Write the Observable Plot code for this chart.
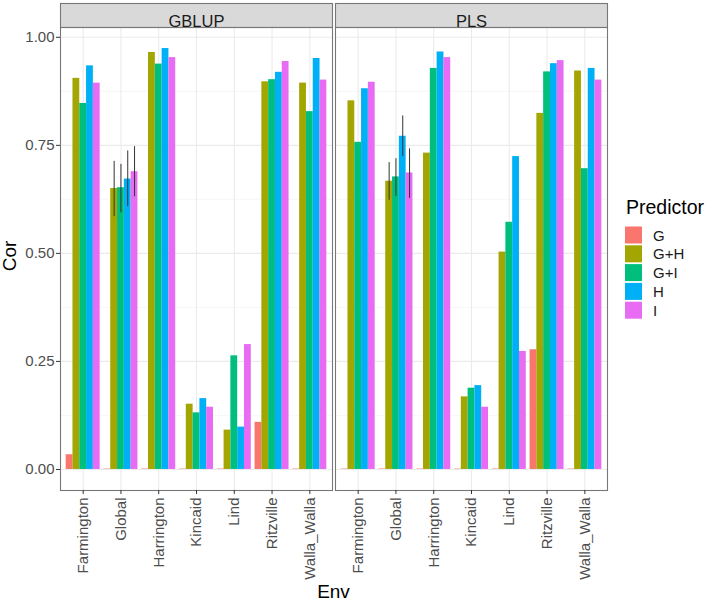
<!DOCTYPE html>
<html><head><meta charset="utf-8">
<script src="https://cdn.jsdelivr.net/npm/d3@7"></script>
<script src="https://cdn.jsdelivr.net/npm/@observablehq/plot@0.6"></script>
<style>
body{margin:0;background:#fff}
#wrap{position:relative;width:706px;height:602px;background:#fff}
#wrap svg{position:absolute;left:0;top:0}
</style>
</head><body><div id="wrap"></div>
<script>
const envs = ["Farmington","Global","Harrington","Kincaid","Lind","Ritzville","Walla_Walla"];
const predictors = ["G","G+H","G+I","H","I"];
const methods = ["GBLUP","PLS"];
const colors = ["#F8766D","#A3A500","#00BF7D","#00B0F6","#E76BF3"];

// GBLUP values by predictor (order of envs)
const gblupG  = [0.034, 0.001, 0.001, 0.001, 0.001, 0.109, 0.001];
const gblupGH = [0.905, 0.650, 0.965, 0.151, 0.091, 0.897, 0.894];
const gblupGI = [0.847, 0.652, 0.938, 0.131, 0.263, 0.902, 0.828];
const gblupH  = [0.934, 0.672, 0.974, 0.164, 0.098, 0.919, 0.951];
const gblupI  = [0.894, 0.689, 0.953, 0.144, 0.289, 0.944, 0.901];
// PLS values by predictor
const plsG  = [0.001, 0.001, 0.001, 0.001, 0.001, 0.277, 0.001];
const plsGH = [0.853, 0.667, 0.732, 0.168, 0.503, 0.824, 0.922];
const plsGI = [0.757, 0.677, 0.928, 0.188, 0.572, 0.920, 0.696];
const plsH  = [0.881, 0.771, 0.966, 0.194, 0.724, 0.939, 0.928];
const plsI  = [0.896, 0.686, 0.953, 0.144, 0.273, 0.946, 0.901];

// Error bars for the "Global" environment (predictors G+H, G+I, H, I)
const errPreds = ["G+H","G+I","H","I"];
const gblupGlobalLo = [0.585, 0.594, 0.608, 0.631];
const gblupGlobalHi = [0.713, 0.706, 0.737, 0.747];
const plsGlobalLo = [0.623, 0.632, 0.724, 0.627];
const plsGlobalHi = [0.710, 0.719, 0.818, 0.742];

const majorY = [0, 0.25, 0.5, 0.75, 1];
const minorY = [0.125, 0.375, 0.625, 0.875];

// ggplot dodge: 5 bars in a 0.9-wide group
const dodge = 0.9 / predictors.length;
const center = (envIdx, pred) => envIdx + 1 + (predictors.indexOf(pred) - (predictors.length - 1) / 2) * dodge;

const series = {
  GBLUP: [gblupG, gblupGH, gblupGI, gblupH, gblupI],
  PLS: [plsG, plsGH, plsGI, plsH, plsI]
};
const bars = [];
for (const m of methods) {
  series[m].forEach((arr, pi) => {
    arr.forEach((v, ei) => {
      const c = center(ei, predictors[pi]);
      bars.push({method: m, env: envs[ei], pred: predictors[pi], cor: v, x1: c - dodge / 2, x2: c + dodge / 2});
    });
  });
}
const errs = [];
const gi = envs.indexOf("Global");
errPreds.forEach((p, i) => {
  errs.push({method: "GBLUP", x: center(gi, p), lo: gblupGlobalLo[i], hi: gblupGlobalHi[i]});
  errs.push({method: "PLS", x: center(gi, p), lo: plsGlobalLo[i], hi: plsGlobalHi[i]});
});

const plot = Plot.plot({
  width: 706, height: 602,
  marginTop: 27, marginBottom: 112, marginLeft: 60, marginRight: 99,
  style: {fontFamily: "'Liberation Sans', Arial, sans-serif", background: "#fff"},
  fx: {domain: methods, paddingInner: 0.011, paddingOuter: 0, axis: null, label: null},
  x: {domain: [0.4, 7.6], label: null},
  y: {domain: [-0.0487, 1.0227], label: null},
  color: {domain: predictors, range: colors},
  marks: [
    Plot.frame({fill: "#d9d9d9", stroke: "#777", strokeWidth: 1.1, insetTop: -24, insetBottom: 463}),
    Plot.gridY({ticks: minorY, stroke: "#f3f3f3", strokeOpacity: 1, strokeWidth: 0.7}),
    Plot.gridY({ticks: majorY, stroke: "#ebebeb", strokeOpacity: 1, strokeWidth: 1.1}),
    Plot.gridX({ticks: d3.range(1, envs.length + 1), stroke: "#ebebeb", strokeOpacity: 1, strokeWidth: 1.1}),
    Plot.rect(bars, {fx: "method", x1: "x1", x2: "x2", y1: 0, y2: "cor", fill: "pred"}),
    Plot.ruleX(errs, {fx: "method", x: "x", y1: "lo", y2: "hi", stroke: "#333", strokeWidth: 1}),
    Plot.frame({stroke: "#777", strokeWidth: 1.1}),
    Plot.text(methods, {fx: d => d, text: d => d, frameAnchor: "top", dy: -12, fontSize: 16.5, fill: "#1a1a1a"}),
    Plot.axisX({ticks: d3.range(1, envs.length + 1), tickFormat: i => envs[i - 1], tickRotate: -90,
      fontSize: 15, fill: "#4d4d4d", stroke: "#333", tickSize: 4, tickPadding: 3, label: null}),
    Plot.axisY({ticks: majorY, tickFormat: d3.format(".2f"), fontSize: 15, fill: "#4d4d4d",
      stroke: "#333", tickSize: 4, tickPadding: 2, label: null})
  ]
});
const wrap = document.getElementById("wrap");
wrap.appendChild(plot);

// Overlay: axis titles and legend
const color = plot.scale("color");
const ov = d3.select(wrap).append("svg")
  .attr("width", 706).attr("height", 602)
  .style("font-family", "'Liberation Sans', Arial, sans-serif")
  .style("pointer-events", "none");
ov.append("text").attr("transform", "translate(16,256) rotate(-90)")
  .attr("text-anchor", "middle").attr("font-size", 19).attr("fill", "#000").text("Cor");
ov.append("text").attr("x", 333.5).attr("y", 598)
  .attr("text-anchor", "middle").attr("font-size", 19).attr("fill", "#000").text("Env");
const lg = ov.append("g").attr("transform", "translate(600,180)");
lg.append("text").attr("x", 26).attr("y", 34).attr("font-size", 19.5).attr("fill", "#000").text("Predictor");
predictors.forEach((p, i) => {
  const y = 46.5 + i * 18.8;
  lg.append("rect").attr("x", 25).attr("y", y).attr("width", 17).attr("height", 17).attr("fill", color.apply(p));
  lg.append("text").attr("x", 53).attr("y", y + 14).attr("font-size", 15).attr("fill", "#1a1a1a").text(p);
});
</script>
</body></html>
